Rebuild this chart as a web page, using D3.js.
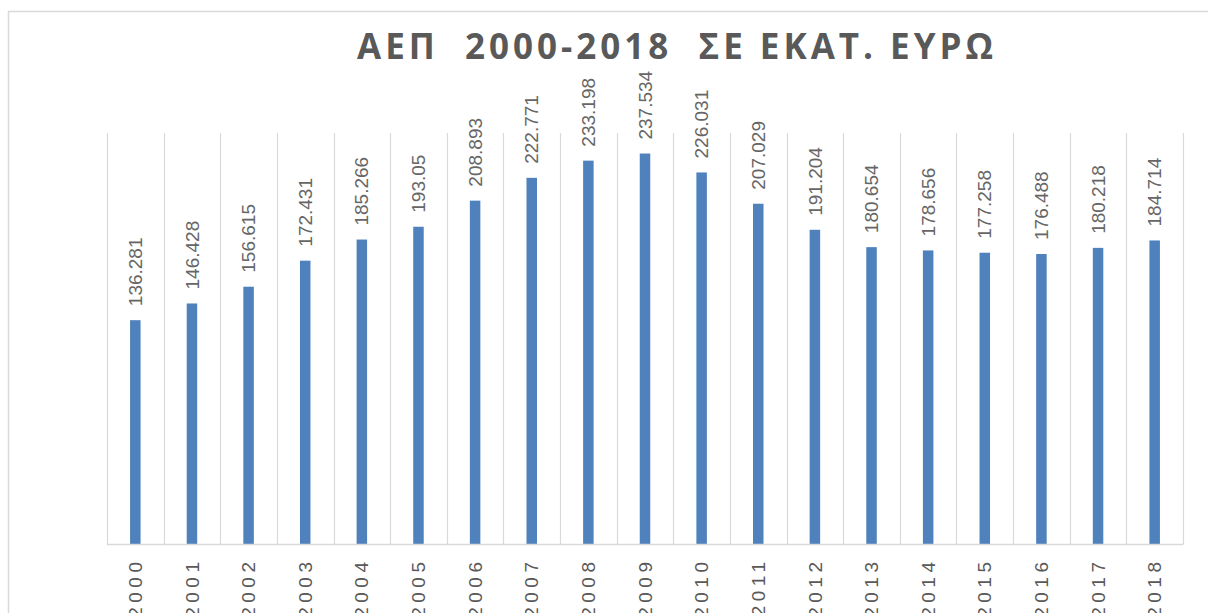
<!DOCTYPE html>
<html>
<head>
<meta charset="utf-8">
<script src="https://cdn.jsdelivr.net/npm/d3@7"></script>
<style>
  body { margin: 0; background: #fff; }
  svg { display: block; }
</style>
</head>
<body>
<svg id="chart" width="1208" height="613"></svg>
<script>
// data
const years = ["2000","2001","2002","2003","2004","2005","2006","2007","2008","2009",
  "2010","2011","2012","2013","2014","2015","2016","2017","2018"];
const gdp = [136.281, 146.428, 156.615, 172.431, 185.266, 193.05, 208.893, 222.771, 233.198, 237.534,
  226.031, 207.029, 191.204, 180.654, 178.656, 177.258, 176.488, 180.218, 184.714];
const labels = ["136.281","146.428","156.615","172.431","185.266","193.05","208.893","222.771","233.198","237.534",
  "226.031","207.029","191.204","180.654","178.656","177.258","176.488","180.218","184.714"];
const title = "ΑΕΠ  2000-2018  ΣΕ ΕΚΑΤ. ΕΥΡΩ";

const svg = d3.select("#chart");
const W = 1208, H = 613;

// chart border (runs off the right/bottom edge like the original)
svg.append("rect")
  .attr("x", 8.5).attr("y", 11.5)
  .attr("width", W).attr("height", H)
  .attr("fill", "#fff")
  .attr("stroke", "#d9d9d9")
  .attr("stroke-width", 1.5);

const plot = { left: 107, right: 1183, top: 133, bottom: 544.5 };

const x = d3.scaleBand()
  .domain(years)
  .range([plot.left, plot.right])
  .padding(0);

const y = d3.scaleLinear()
  .domain([0, 250])
  .range([plot.bottom, plot.top]);

const barW = 10.5;

// vertical gridlines between categories
const grid = svg.append("g").attr("class", "grid");
const bounds = years.map(d => x(d)).concat([plot.right]);
grid.selectAll("line")
  .data(bounds)
  .enter()
  .append("line")
  .attr("x1", d => Math.round(d) + 0.5)
  .attr("x2", d => Math.round(d) + 0.5)
  .attr("y1", plot.top)
  .attr("y2", plot.bottom)
  .attr("stroke", "#d9d9d9")
  .attr("stroke-width", 1.2);

// bars
svg.append("g")
  .selectAll("rect")
  .data(gdp)
  .enter()
  .append("rect")
  .attr("x", (d, i) => x(years[i]) + x.bandwidth() / 2 - barW / 2)
  .attr("y", d => y(d))
  .attr("width", barW)
  .attr("height", d => y(0) - y(d))
  .attr("fill", "#4f81bd");

// baseline
svg.append("line")
  .attr("x1", plot.left).attr("x2", plot.right)
  .attr("y1", plot.bottom).attr("y2", plot.bottom)
  .attr("stroke", "#d9d9d9")
  .attr("stroke-width", 1.5);

// value labels, rotated
svg.append("g")
  .selectAll("text")
  .data(gdp)
  .enter()
  .append("text")
  .attr("transform", (d, i) => {
    const cx = x(years[i]) + x.bandwidth() / 2;
    return "translate(" + cx + "," + (y(d) - 14) + ") rotate(-90)";
  })
  .attr("dy", "0.35em")
  .attr("text-anchor", "start")
  .attr("font-family", "'Liberation Sans', Arial, sans-serif")
  .attr("font-size", "19px")
  .attr("fill", "#666666")
  .text((d, i) => labels[i]);

// x axis labels, rotated and letter spaced
svg.append("g")
  .selectAll("text")
  .data(years)
  .enter()
  .append("text")
  .attr("transform", d => "translate(" + (x(d) + x.bandwidth() / 2) + "," + 557.5 + ") rotate(-90)")
  .attr("dy", "0.35em")
  .attr("text-anchor", "end")
  .attr("font-family", "'Liberation Sans', Arial, sans-serif")
  .attr("font-size", "19px")
  .attr("letter-spacing", "4.5px")
  .attr("fill", "#595959")
  .text(d => d);

// title
svg.append("text")
  .attr("x", 357)
  .attr("y", 59)
  .attr("textLength", 636)
  .attr("lengthAdjust", "spacing")
  .attr("font-family", "'Open Sans', sans-serif")
  .attr("font-weight", 700)
  .attr("font-size", "35px")
  .attr("fill", "#595959")
  .attr("xml:space", "preserve")
  .style("white-space", "pre")
  .text(title);
</script>
</body>
</html>
